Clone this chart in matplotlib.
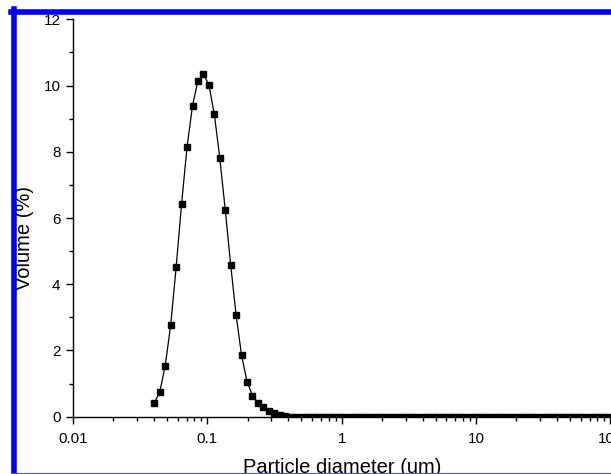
import matplotlib
matplotlib.use("Agg")
import matplotlib.pyplot as plt
from matplotlib.lines import Line2D
from matplotlib.ticker import LogLocator, MultipleLocator, FixedFormatter, FixedLocator

plt.rcParams["font.family"] = ["Liberation Sans", "DejaVu Sans"]

# particle size bins (um) and volume distribution (%)
diameter = [
    0.0403, 0.04425, 0.04859, 0.05335, 0.05857, 0.06431, 0.07062, 0.07753,
    0.08513, 0.09348, 0.1026, 0.1127, 0.1237, 0.1359, 0.1492, 0.1638,
    0.1798, 0.1975, 0.2168, 0.2381, 0.2614, 0.2870, 0.3152, 0.3461,
    0.3800, 0.4172, 0.4581, 0.5030, 0.5523, 0.6064, 0.6658, 0.7311,
    0.8027, 0.8814, 0.9677, 1.063, 1.167, 1.281, 1.407, 1.544,
    1.696, 1.862, 2.044, 2.245, 2.465, 2.706, 2.972, 3.263,
    3.583, 3.934, 4.319, 4.742, 5.207, 5.718, 6.278, 6.893,
    7.569, 8.310, 9.125, 10.02, 11.00, 12.08, 13.26, 14.56,
    15.99, 17.56, 19.28, 21.17, 23.24, 25.52, 28.02, 30.77,
    33.78, 37.09, 40.73, 44.72, 49.10, 53.91, 59.19, 64.99,
    71.36, 78.36, 86.04, 94.47, 103.7,
]
volume = [
    0.42, 0.75, 1.54, 2.77, 4.51, 6.43, 8.15, 9.39,
    10.15, 10.34, 10.03, 9.13, 7.82, 6.25, 4.58, 3.06,
    1.85, 1.06, 0.63, 0.42, 0.30, 0.18, 0.10, 0.04,
    0.01, 0, 0, 0, 0, 0, 0, 0,
    0, 0, 0, 0, 0, 0, 0, 0,
    0, 0, 0, 0, 0, 0, 0, 0,
    0, 0, 0, 0, 0, 0, 0, 0,
    0, 0, 0, 0, 0, 0, 0, 0,
    0, 0, 0, 0, 0, 0, 0, 0,
    0, 0, 0, 0, 0, 0, 0, 0,
    0, 0, 0, 0, 0,
]

x_ticks = [0.01, 0.1, 1, 10, 100]
x_tick_labels = ["0.01", "0.1", "1", "10", "100"]


def main():
    fig = plt.figure(figsize=(6.11, 4.74), dpi=100)
    ax = fig.add_axes([73 / 611, 57.3 / 474, 537.4 / 611, 397.4 / 474])

    ax.plot(diameter, volume, color="black", lw=0.9, marker="s",
            markersize=4.8, markerfacecolor="black", markeredgecolor="black")

    ax.set_xscale("log")
    ax.set_xlim(0.01, 100)
    ax.set_ylim(0, 12)

    ax.xaxis.set_major_locator(FixedLocator(x_ticks))
    ax.xaxis.set_major_formatter(FixedFormatter(x_tick_labels))
    ax.xaxis.set_minor_locator(LogLocator(base=10, subs=range(2, 10)))
    ax.yaxis.set_major_locator(MultipleLocator(2))
    ax.yaxis.set_minor_locator(MultipleLocator(1))

    for side in ("top", "right"):
        ax.spines[side].set_visible(False)
    for side in ("left", "bottom"):
        ax.spines[side].set_linewidth(1.0)

    ax.tick_params(which="major", direction="out", length=5, width=1.0,
                   labelsize=11, pad=4)
    ax.tick_params(which="minor", direction="out", length=3, width=1.0)
    ax.tick_params(axis="x", which="major", pad=6)

    ax.set_xlabel("Particle diameter (um)", fontsize=14.5)
    ax.xaxis.set_label_coords(0.5, -0.104)
    ax.xaxis.label.set_va("top")
    ax.set_ylabel("Volume (%)", fontsize=14.5)
    ax.yaxis.set_label_coords(-0.072, 0.45)

    # blue frame around the figure
    W, H = 611, 474
    fig.add_artist(Line2D([13.5 / W, 13.5 / W], [0, (H - 9.3) / H],
                          transform=fig.transFigure, color="#0000ff", lw=4.0))
    fig.add_artist(Line2D([11 / W, 1], [(H - 12.2) / H, (H - 12.2) / H],
                          transform=fig.transFigure, color="#0000ff", lw=4.0))
    fig.add_artist(Line2D([11 / W, 1], [(H - 473) / H, (H - 473) / H],
                          transform=fig.transFigure, color="#4a4aff", lw=0.8))

    fig.savefig("out.png", dpi=100)


if __name__ == "__main__":
    main()
